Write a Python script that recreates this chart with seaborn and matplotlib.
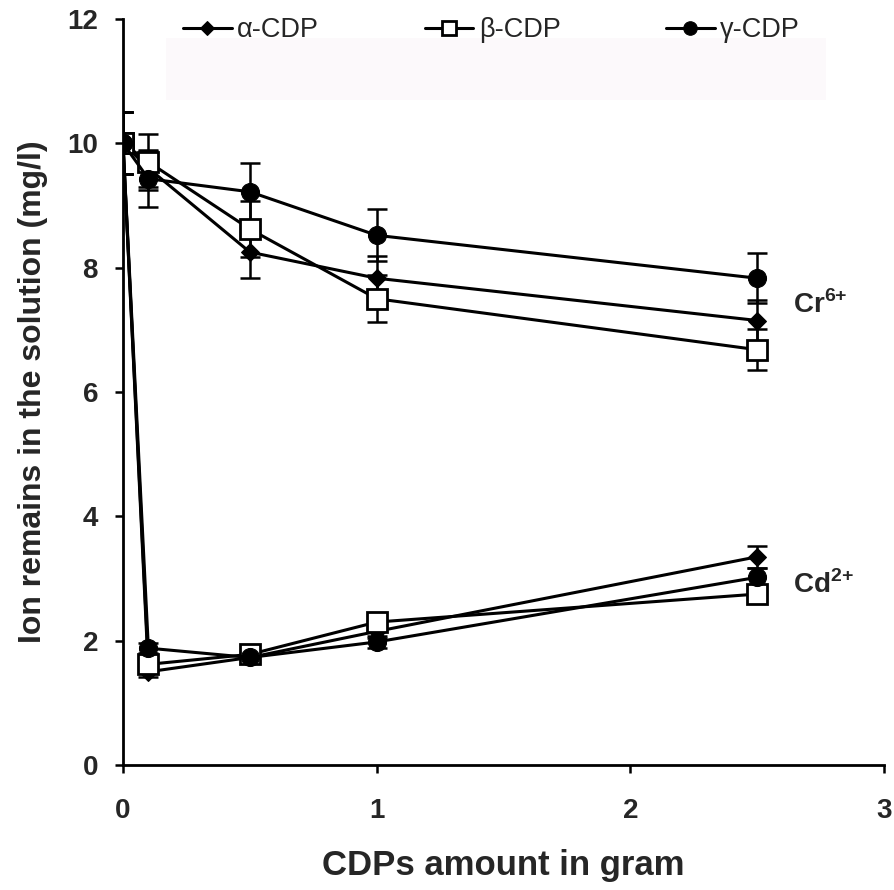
import matplotlib
matplotlib.use("Agg")
import matplotlib.pyplot as plt
from matplotlib.patches import Rectangle
import seaborn as sns
import pandas as pd

# CDP amounts (g)
amount = [0, 0.1, 0.5, 1, 2.5]

# Cr(VI) remaining (mg/l)
cr_alpha = [10.0, 9.60, 8.25, 7.83, 7.15]
cr_beta = [10.0, 9.70, 8.62, 7.50, 6.68]
cr_gamma = [10.0, 9.43, 9.22, 8.52, 7.83]
cr_alpha_err = [0.5, 0.30, 0.42, 0.35, 0.33]
cr_beta_err = [0.5, 0.45, 0.45, 0.38, 0.33]
cr_gamma_err = [0.5, 0.45, 0.46, 0.42, 0.40]

# Cd(II) remaining (mg/l)
cd_alpha = [10.0, 1.50, 1.73, 2.15, 3.35]
cd_beta = [10.0, 1.62, 1.78, 2.30, 2.75]
cd_gamma = [10.0, 1.88, 1.73, 1.98, 3.02]
cd_alpha_err = [0.5, 0.08, 0.05, 0.10, 0.18]
cd_beta_err = [0.5, 0.08, 0.05, 0.10, 0.10]
cd_gamma_err = [0.5, 0.08, 0.05, 0.10, 0.15]

series_names = ["α-CDP", "β-CDP", "γ-CDP"]
x_ticks = [0, 1, 2, 3]
y_ticks = [0, 2, 4, 6, 8, 10, 12]

sns.set_theme(style="ticks")
plt.rcParams["font.family"] = ["Liberation Sans", "DejaVu Sans"]
plt.rcParams["mathtext.fontset"] = "custom"
plt.rcParams["mathtext.rm"] = "Liberation Sans"
plt.rcParams["mathtext.bf"] = "Liberation Sans:bold"

fig = plt.figure(figsize=(8.94, 8.90), dpi=100)
ax = fig.add_axes([0.1376, 0.1404, 0.8514, 0.8383])

styles = {
    "α-CDP": dict(marker="D", markersize=9, markerfacecolor="black", markeredgecolor="black"),
    "β-CDP": dict(marker="s", markersize=14, markerfacecolor="white", markeredgecolor="black", markeredgewidth=2),
    "γ-CDP": dict(marker="o", markersize=13, markerfacecolor="black", markeredgecolor="black"),
}

groups = [
    (cr_alpha, cr_alpha_err, cd_alpha, cd_alpha_err),
    (cr_beta, cr_beta_err, cd_beta, cd_beta_err),
    (cr_gamma, cr_gamma_err, cd_gamma, cd_gamma_err),
]

for name, (cr, cr_err, cd, cd_err) in zip(series_names, groups):
    for vals, errs, lab in ((cr, cr_err, name), (cd, cd_err, None)):
        df = pd.DataFrame({"x": amount, "y": vals})
        ax.errorbar(amount, vals, yerr=errs, fmt="none", ecolor="black",
                    elinewidth=1.8, capsize=7, capthick=1.8, zorder=2)
        sns.lineplot(data=df, x="x", y="y", ax=ax, color="black", linewidth=2.2,
                     label=lab, legend=False, zorder=3, **styles[name])

ax.set_xlim(0, 3)
ax.set_ylim(0, 12)
ax.set_xticks(x_ticks)
ax.set_yticks(y_ticks)
ax.set_xticklabels([str(t) for t in x_ticks], fontsize=20, fontweight="bold")
ax.set_yticklabels([str(t) for t in y_ticks], fontsize=20, fontweight="bold")
ax.tick_params(axis="both", direction="out", length=6, width=1.8, color="black")
ax.tick_params(axis="y", pad=12)
ax.tick_params(axis="x", pad=18)
for side in ("top", "right"):
    ax.spines[side].set_visible(False)
for side in ("left", "bottom"):
    ax.spines[side].set_linewidth(2)
    ax.spines[side].set_color("black")
ax.spines["left"].set_zorder(1)

ax.set_xlabel("CDPs amount in gram", fontsize=25, fontweight="bold", labelpad=18)
ax.set_ylabel("Ion remains in the solution (mg/l)", fontsize=23, fontweight="bold", labelpad=14)

ax.text(2.64, 7.4, r"Cr$^{\mathbf{6{+}}}$", fontsize=20, fontweight="bold", va="center", ha="left")
ax.text(2.64, 2.9, r"Cd$^{\mathbf{2{+}}}$", fontsize=20, fontweight="bold", va="center", ha="left")

# faint panel behind the key
ax.add_patch(Rectangle((0.17, 10.7), 2.6, 1.0, facecolor="#fcf9fb", edgecolor="none", zorder=0))

handles, labels = ax.get_legend_handles_labels()
leg = ax.legend(handles, labels, ncol=3, loc="center", bbox_to_anchor=(0.484, 0.985),
                frameon=False, fontsize=19.5, handlelength=1.8, handletextpad=0.2,
                columnspacing=3.9, markerscale=0.75)

fig.savefig("out.png", dpi=100)
